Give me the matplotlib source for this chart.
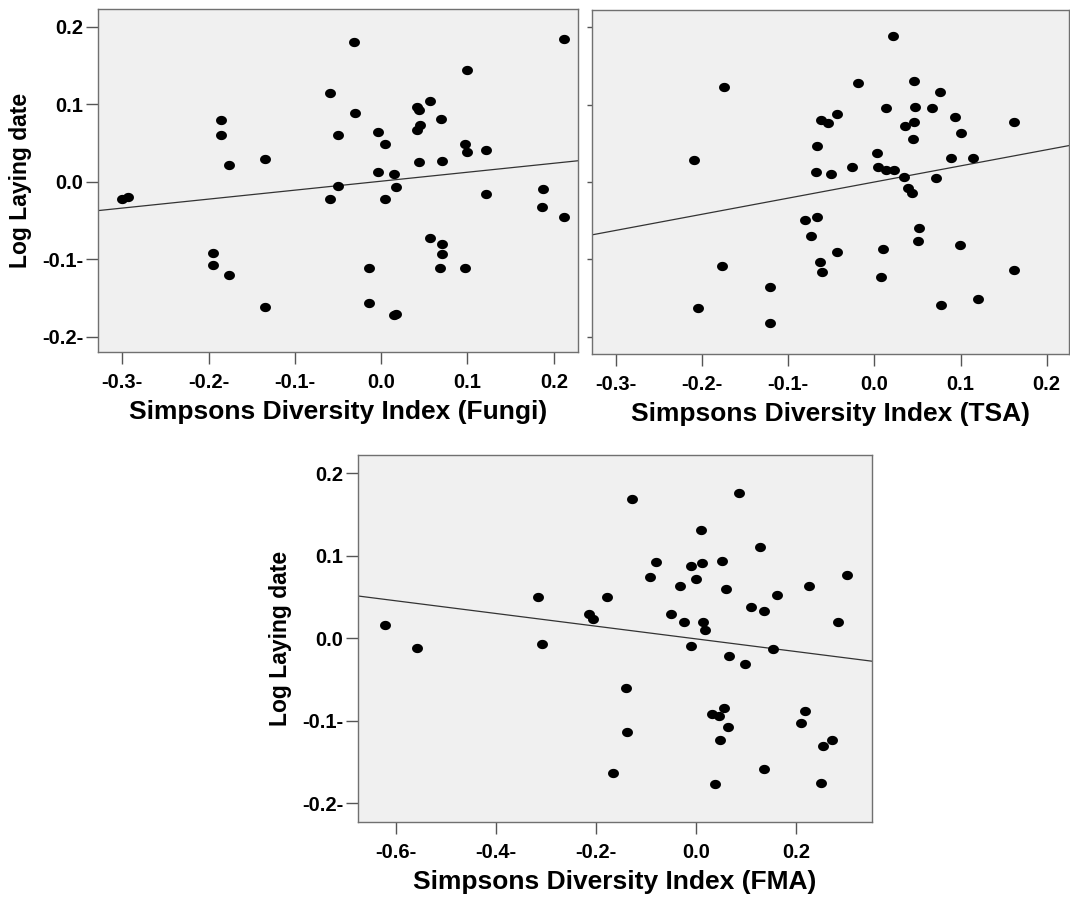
#!/usr/bin/env python3
"""Laying date vs Simpsons diversity index: three scatter panels with fit lines."""

import matplotlib

matplotlib.use("Agg")
import matplotlib.pyplot as plt
import numpy as np
from matplotlib.path import Path

plt.rcParams["font.family"] = ["Liberation Sans", "DejaVu Sans"]
plt.rcParams["font.weight"] = "bold"

# --- data ---
fungi_x = [-0.300, -0.293, -0.186, -0.186, -0.176, -0.134, -0.195, -0.195, -0.176, -0.134,
           -0.059, -0.031, -0.030, -0.050, -0.050, -0.059, -0.004, 0.005, -0.004, 0.015,
           0.017, 0.005, -0.014, -0.014, 0.015, 0.017, 0.041, 0.044, 0.056, 0.045,
           0.041, 0.069, 0.044, 0.071, 0.056, 0.070, 0.070, 0.068, 0.097, 0.099,
           0.097, 0.100, 0.122, 0.122, 0.187, 0.186, 0.212, 0.212]
fungi_y = [-0.022, -0.020, 0.079, 0.060, 0.022, 0.029, -0.092, -0.108, -0.121, -0.162,
           0.114, 0.180, 0.089, 0.060, -0.005, -0.023, 0.064, 0.048, 0.012, 0.010,
           -0.007, -0.022, -0.111, -0.157, -0.172, -0.171, 0.097, 0.092, 0.104, 0.073,
           0.067, 0.081, 0.026, 0.027, -0.073, -0.080, -0.094, -0.111, -0.111, 0.144,
           0.049, 0.038, 0.041, -0.016, -0.009, -0.033, 0.184, -0.046]

tsa_x = [-0.175, -0.210, -0.177, -0.205, -0.121, -0.121, -0.062, -0.054, -0.044, -0.067,
         -0.068, -0.051, -0.026, -0.019, -0.081, -0.067, -0.074, -0.043, -0.063, -0.061,
         0.022, 0.013, 0.003, 0.004, 0.014, 0.023, 0.034, 0.039, 0.044, 0.010,
         0.008, 0.046, 0.047, 0.046, 0.035, 0.045, 0.067, 0.076, 0.094, 0.101,
         0.089, 0.115, 0.072, 0.052, 0.051, 0.099, 0.077, 0.120, 0.162, 0.162]
tsa_y = [0.123, 0.029, -0.108, -0.163, -0.136, -0.182, 0.080, 0.076, 0.088, 0.047,
         0.013, 0.010, 0.020, 0.128, -0.049, -0.045, -0.070, -0.090, -0.103, -0.116,
         0.188, 0.095, 0.038, 0.019, 0.016, 0.016, 0.007, -0.008, -0.014, -0.087,
         -0.122, 0.130, 0.097, 0.077, 0.072, 0.056, 0.095, 0.116, 0.084, 0.063,
         0.031, 0.031, 0.005, -0.060, -0.076, -0.081, -0.159, -0.151, 0.078, -0.114]

fma_x = [-0.623, -0.558, -0.317, -0.309, -0.215, -0.207, -0.179, -0.128, -0.140, -0.138,
         -0.167, -0.080, -0.092, -0.051, -0.032, -0.025, -0.011, 0.000, 0.010, 0.012,
         -0.011, 0.014, 0.018, 0.051, 0.059, 0.086, 0.127, 0.110, 0.135, 0.161,
         0.066, 0.098, 0.153, 0.032, 0.045, 0.055, 0.064, 0.048, 0.037, 0.135,
         0.225, 0.302, 0.283, 0.218, 0.209, 0.271, 0.253, 0.249]
fma_y = [0.016, -0.012, 0.050, -0.007, 0.029, 0.023, 0.050, 0.169, -0.061, -0.114,
         -0.163, 0.092, 0.074, 0.029, 0.063, 0.019, 0.088, 0.072, 0.131, 0.091,
         -0.009, 0.019, 0.010, 0.093, 0.060, 0.176, 0.110, 0.038, 0.033, 0.052,
         -0.022, -0.031, -0.013, -0.092, -0.094, -0.085, -0.108, -0.124, -0.177, -0.159,
         0.063, 0.076, 0.020, -0.088, -0.103, -0.123, -0.131, -0.176]

# fit lines (slope, intercept) as drawn in the reference
fungi_fit = (0.1158, 0.0006)
tsa_fit = (0.208, 0.000)
fma_fit = (-0.077, -0.001)

y_ticks = [-0.2, -0.1, 0.0, 0.1, 0.2]
y_tick_labels = ["-0.2-", "-0.1-", "0.0", "0.1", "0.2"]
top_x_ticks = [-0.3, -0.2, -0.1, 0.0, 0.1, 0.2]
top_x_tick_labels = ["-0.3-", "-0.2-", "-0.1-", "0.0", "0.1", "0.2"]
fma_x_ticks = [-0.6, -0.4, -0.2, 0.0, 0.2]
fma_x_tick_labels = ["-0.6-", "-0.4-", "-0.2-", "0.0", "0.2"]

# slightly flattened dot, like the original export
_t = np.linspace(0, 2 * np.pi, 48)
DOT = Path(np.column_stack([np.cos(_t), 0.85 * np.sin(_t)]), closed=True)


def draw_panel(ax, xs, ys, fit, xlim, ylim, xticks, xlabels, xlabel,
               ylabel=None, ylabels=True, ytick_len=8.6):
    ax.set_facecolor("#f0f0f0")
    ax.scatter(xs, ys, s=62, marker=DOT, color="black", linewidths=0, zorder=3)
    xx = np.array(xlim)
    ax.plot(xx, fit[0] * xx + fit[1], color="#333333", lw=0.9, zorder=2)
    ax.set_xlim(*xlim)
    ax.set_ylim(*ylim)
    ax.set_xticks(xticks)
    ax.set_xticklabels(xlabels)
    ax.set_yticks(y_ticks)
    if ylabels:
        ax.set_yticklabels(y_tick_labels)
    else:
        ax.set_yticklabels([])
    for sp in ax.spines.values():
        sp.set_color("#707070")
        sp.set_linewidth(1.0)
    ax.tick_params(axis="x", length=8.6, width=1, color="#555555", pad=6.5, labelsize=14.5)
    ax.tick_params(axis="y", length=ytick_len, width=1, color="#555555", pad=2, labelsize=14.5)
    ax.set_xlabel(xlabel, fontsize=19, fontweight="bold", labelpad=6)
    if ylabel:
        ax.set_ylabel(ylabel, fontsize=16.5, fontweight="bold", labelpad=7)


fig = plt.figure(figsize=(10.7, 8.97), dpi=100)
W, H = 1070, 897
ax1 = fig.add_axes([98 / W, 1 - 352 / H, 480 / W, 343 / H])
ax2 = fig.add_axes([592 / W, 1 - 354 / H, 477 / W, 344 / H])
ax3 = fig.add_axes([358 / W, 1 - 822 / H, 514 / W, 367 / H])

draw_panel(ax1, fungi_x, fungi_y, fungi_fit, (-0.328, 0.228), (-0.22, 0.223),
           top_x_ticks, top_x_tick_labels, "Simpsons Diversity Index (Fungi)", "Log Laying date")
draw_panel(ax2, tsa_x, tsa_y, tsa_fit, (-0.328, 0.226), (-0.222, 0.222),
           top_x_ticks, top_x_tick_labels, "Simpsons Diversity Index (TSA)",
           ylabels=False, ytick_len=3.6)
draw_panel(ax3, fma_x, fma_y, fma_fit, (-0.676, 0.351), (-0.223, 0.222),
           fma_x_ticks, fma_x_tick_labels, "Simpsons Diversity Index (FMA)", "Log Laying date")

fig.savefig("out.png", dpi=100)
